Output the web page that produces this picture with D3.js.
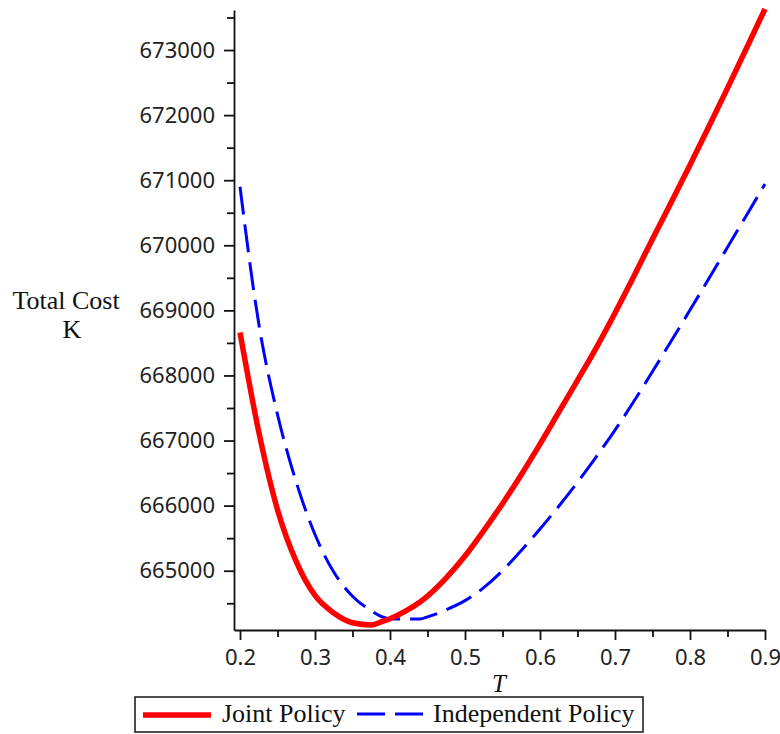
<!DOCTYPE html>
<html>
<head>
<meta charset="utf-8">
<script src="https://cdn.jsdelivr.net/npm/d3@7"></script>
<style>
  html, body { margin: 0; padding: 0; background: #fff; }
  svg { display: block; }
</style>
</head>
<body>
<svg id="chart" width="780" height="734"></svg>
<script>
// ---- data ----
const T = [0.200, 0.225, 0.250, 0.275, 0.300, 0.325, 0.350, 0.375, 0.390, 0.400, 0.420, 0.440, 0.450, 0.475, 0.500, 0.525, 0.550, 0.575, 0.600, 0.625, 0.650, 0.675, 0.700, 0.725, 0.750, 0.775, 0.800, 0.825, 0.850, 0.875, 0.900];
const jointCost = [668660, 667135, 665937, 665140, 664620, 664350, 664200, 664166, 664220, 664262, 664375, 664520, 664610, 664890, 665225, 665615, 666030, 666475, 666945, 667435, 667925, 668425, 668960, 669520, 670095, 670660, 671235, 671820, 672415, 673020, 673630];
const independentCost = [670900, 668797, 667400, 666360, 665556, 664979, 664607, 664385, 664289, 664262, 664258, 664258, 664290, 664400, 664540, 664740, 665000, 665310, 665640, 665990, 666360, 666750, 667160, 667600, 668060, 668530, 669005, 669485, 669970, 670455, 670940];
const xTicks = [0.2, 0.3, 0.4, 0.5, 0.6, 0.7, 0.8, 0.9];
const xMinorTicks = [0.25, 0.35, 0.45, 0.55, 0.65, 0.75, 0.85];
const yTicks = [665000, 666000, 667000, 668000, 669000, 670000, 671000, 672000, 673000];
const yMinorTicks = [664500, 665500, 666500, 667500, 668500, 669500, 670500, 671500, 672500, 673500];
const seriesNames = ["Joint Policy", "Independent Policy"];
const xLabel = "T";
const yLabelLines = ["Total Cost", "K"];

// ---- layout ----
const svg = d3.select("#chart");
const x = d3.scaleLinear().domain([0.192, 0.9]).range([234, 765]);
const y = d3.scaleLinear().domain([664089, 673615]).range([630, 10]);

const tickFont = "'Noto Sans', 'DejaVu Sans', sans-serif";
const serif = "'Liberation Serif', 'Times New Roman', serif";

// y axis
const gy = svg.append("g").attr("transform", "translate(234,0)");
gy.call(d3.axisLeft(y).tickValues(yTicks).tickSize(10).tickSizeOuter(0).tickPadding(9).tickFormat(d3.format("d")));
gy.append("g").call(d3.axisLeft(y).tickValues(yMinorTicks).tickSize(7).tickFormat(""))
  .select(".domain").remove();
gy.selectAll("text").attr("font-family", tickFont).attr("font-size", 22).attr("fill", "#222");

// x axis
const gx = svg.append("g").attr("transform", "translate(0,630)");
gx.call(d3.axisBottom(x).tickValues(xTicks).tickSize(10).tickSizeOuter(0).tickPadding(9).tickFormat(d3.format(".1f")));
gx.append("g").call(d3.axisBottom(x).tickValues(xMinorTicks).tickSize(7).tickFormat(""))
  .select(".domain").remove();
gx.selectAll("text").attr("font-family", tickFont).attr("font-size", 22).attr("fill", "#222");

svg.selectAll(".domain").attr("stroke", "#111").attr("stroke-width", 1.8);
svg.selectAll(".tick line").attr("stroke", "#111").attr("stroke-width", 1.8);

// axis labels
svg.append("text").attr("x", 499).attr("y", 692).attr("text-anchor", "middle")
  .attr("font-family", serif).attr("font-style", "italic").attr("font-size", 25).attr("fill", "#111").text(xLabel);
svg.append("text").attr("x", 66).attr("y", 309).attr("text-anchor", "middle")
  .attr("font-family", serif).attr("font-size", 26).attr("fill", "#111").text(yLabelLines[0]);
svg.append("text").attr("x", 72).attr("y", 338).attr("text-anchor", "middle")
  .attr("font-family", serif).attr("font-size", 26).attr("fill", "#111").text(yLabelLines[1]);

// curves
const line = (vals) => d3.line().x((d, i) => x(T[i])).y(d => y(d)).curve(d3.curveMonotoneX)(vals);
svg.append("path").attr("d", line(independentCost)).attr("fill", "none")
  .attr("stroke", "#0000ff").attr("stroke-width", 3).attr("stroke-dasharray", "28,10");
svg.append("path").attr("d", line(jointCost)).attr("fill", "none")
  .attr("stroke", "#ff0000").attr("stroke-width", 5.5);

// legend
const lg = svg.append("g");
lg.append("rect").attr("x", 135).attr("y", 697).attr("width", 508).attr("height", 35)
  .attr("fill", "#fff").attr("stroke", "#222").attr("stroke-width", 1.6);
lg.append("line").attr("x1", 143).attr("x2", 211).attr("y1", 715).attr("y2", 715)
  .attr("stroke", "#ff0000").attr("stroke-width", 5.5);
lg.append("text").attr("x", 222).attr("y", 722).attr("font-family", serif).attr("font-size", 26)
  .attr("fill", "#111").text(seriesNames[0]);
lg.append("line").attr("x1", 423).attr("x2", 353).attr("y1", 714).attr("y2", 714)
  .attr("stroke", "#0000ff").attr("stroke-width", 3).attr("stroke-dasharray", "28,10");
lg.append("text").attr("x", 433).attr("y", 722).attr("font-family", serif).attr("font-size", 26)
  .attr("fill", "#111").text(seriesNames[1]);
</script>
</body>
</html>
